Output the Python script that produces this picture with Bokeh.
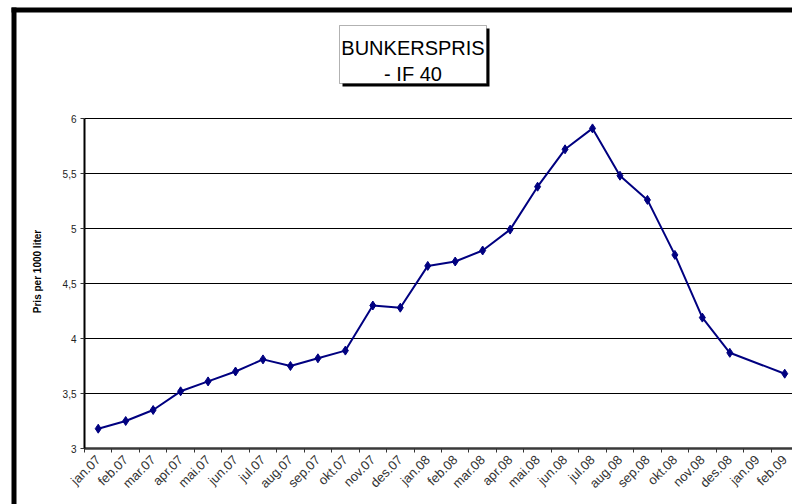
from bokeh.plotting import figure
from bokeh.models import FixedTicker, Range1d, Label, ColumnDataSource, BoxAnnotation
from bokeh.embed import file_html
from bokeh.resources import INLINE
import math

months = ["jan.07", "feb.07", "mar.07", "apr.07", "mai.07", "jun.07", "jul.07", "aug.07",
          "sep.07", "okt.07", "nov.07", "des.07", "jan.08", "feb.08", "mar.08", "apr.08",
          "mai.08", "jun.08", "jul.08", "aug.08", "sep.08", "okt.08", "nov.08", "des.08",
          "jan.09", "feb.09"]
prices = [3.18, 3.25, 3.35, 3.52, 3.61, 3.70, 3.81, 3.75, 3.82, 3.89, 4.30, 4.28,
          4.66, 4.70, 4.80, 4.99, 5.38, 5.72, 5.91, 5.48, 5.26, 4.76, 4.19, 3.87,
          None, 3.68]
y_ticks = [3, 3.5, 4, 4.5, 5, 5.5, 6]
y_tick_labels = ["3", "3,5", "4", "4,5", "5", "5,5", "6"]
title_lines = ["BUNKERSPRIS", "- IF 40"]
y_title = "Pris per 1000 liter"

xs = [i + 0.5 for i, v in enumerate(prices) if v is not None]
ys = [v for v in prices if v is not None]
src = ColumnDataSource(dict(x=xs, y=ys))

FONT = "Liberation Sans"

W, H = 792, 504
AX_X = 84.0      # pixel column of the value axis
AX_TOP = 118.0   # pixel row of the top value (6)
AX_BOT = 448.0   # pixel row of the bottom value (3)
STEP = 27.46     # pixel width of one category
Y0, Y1 = 3, 6
YPX = (AX_BOT - AX_TOP) / (Y1 - Y0)


def dx(px):
    return (px - AX_X) / STEP


def dy(py):
    return Y1 - (py - AX_TOP) / YPX


ncat = len(months)
x_end = dx(W)

p = figure(width=W, height=H, output_backend="svg", toolbar_location=None,
           x_range=Range1d(dx(0), dx(W)), y_range=Range1d(dy(H), dy(0)),
           min_border=0, min_border_left=0, min_border_right=0,
           min_border_top=0, min_border_bottom=0)
p.outline_line_color = None
p.background_fill_color = "white"
p.border_fill_color = "white"
p.xgrid.visible = False
p.ygrid.visible = False

# horizontal gridlines across the plot area
p.segment(x0=[0] * len(y_ticks), x1=[x_end] * len(y_ticks), y0=y_ticks, y1=y_ticks,
          line_color="black", line_width=1)

centers = [i + 0.5 for i in range(ncat)]
bounds = [float(i) for i in range(ncat + 1)]
xa = p.xaxis[0]
xa.fixed_location = Y0
xa.bounds = (0, x_end)
xa.ticker = FixedTicker(ticks=centers, minor_ticks=bounds)
xa.major_label_overrides = {c: m for c, m in zip(centers, months)}
xa.major_label_orientation = math.pi / 4
xa.major_tick_out = 0
xa.major_tick_in = 0
xa.minor_tick_out = 4
xa.minor_tick_in = 0
xa.minor_tick_line_color = "#333333"
xa.axis_line_color = "#3a3a3a"
xa.axis_line_width = 2.5
xa.major_label_text_font = FONT
xa.major_label_text_font_size = "13px"
xa.major_label_text_color = "#333333"
xa.major_label_standoff = 5

ya = p.yaxis[0]
ya.fixed_location = 0
ya.bounds = (Y0, Y1)
ya.ticker = FixedTicker(ticks=y_ticks, minor_ticks=[])
ya.major_label_overrides = {t: l for t, l in zip(y_ticks, y_tick_labels)}
ya.major_tick_out = 4
ya.major_tick_in = 0
ya.major_tick_line_color = "#333333"
ya.axis_line_color = "black"
ya.axis_line_width = 2
ya.major_label_text_font = FONT
ya.major_label_text_font_size = "10px"
ya.major_label_text_color = "#222222"
ya.major_label_standoff = 4

p.line("x", "y", source=src, line_color="#000080", line_width=2)
p.scatter("x", "y", source=src, marker="diamond", size=9,
          fill_color="#000080", line_color="#000080")

# value-axis title
p.add_layout(Label(x=dx(37), y=dy(271), text=y_title, angle=math.pi / 2,
                   text_align="center", text_baseline="middle", text_font=FONT,
                   text_font_size="10px", text_font_style="bold", text_color="black"))

# outer thick chart border (top and left edges visible)
p.add_layout(BoxAnnotation(left=dx(11), right=dx(16), top=dy(7), bottom=dy(H + 5),
                           fill_color="black", fill_alpha=1, line_color=None))
p.add_layout(BoxAnnotation(left=dx(11), right=dx(W + 5), top=dy(7), bottom=dy(12),
                           fill_color="black", fill_alpha=1, line_color=None))

# title box with drop shadow
p.add_layout(BoxAnnotation(left=dx(342), right=dx(489), top=dy(28), bottom=dy(86),
                           fill_color="black", fill_alpha=1, line_color=None))
p.add_layout(BoxAnnotation(left=dx(339), right=dx(486), top=dy(25), bottom=dy(83),
                           fill_color="white", fill_alpha=1, line_color="black",
                           line_width=1))
for line_text, base in zip(title_lines, [47.5, 73.5]):
    p.add_layout(Label(x=dx(412.5), y=dy(base), text=line_text, text_align="center",
                       text_baseline="alphabetic", text_font=FONT,
                       text_font_size="20px", text_color="black"))

open("out.html", "w").write(file_html(p, INLINE))
